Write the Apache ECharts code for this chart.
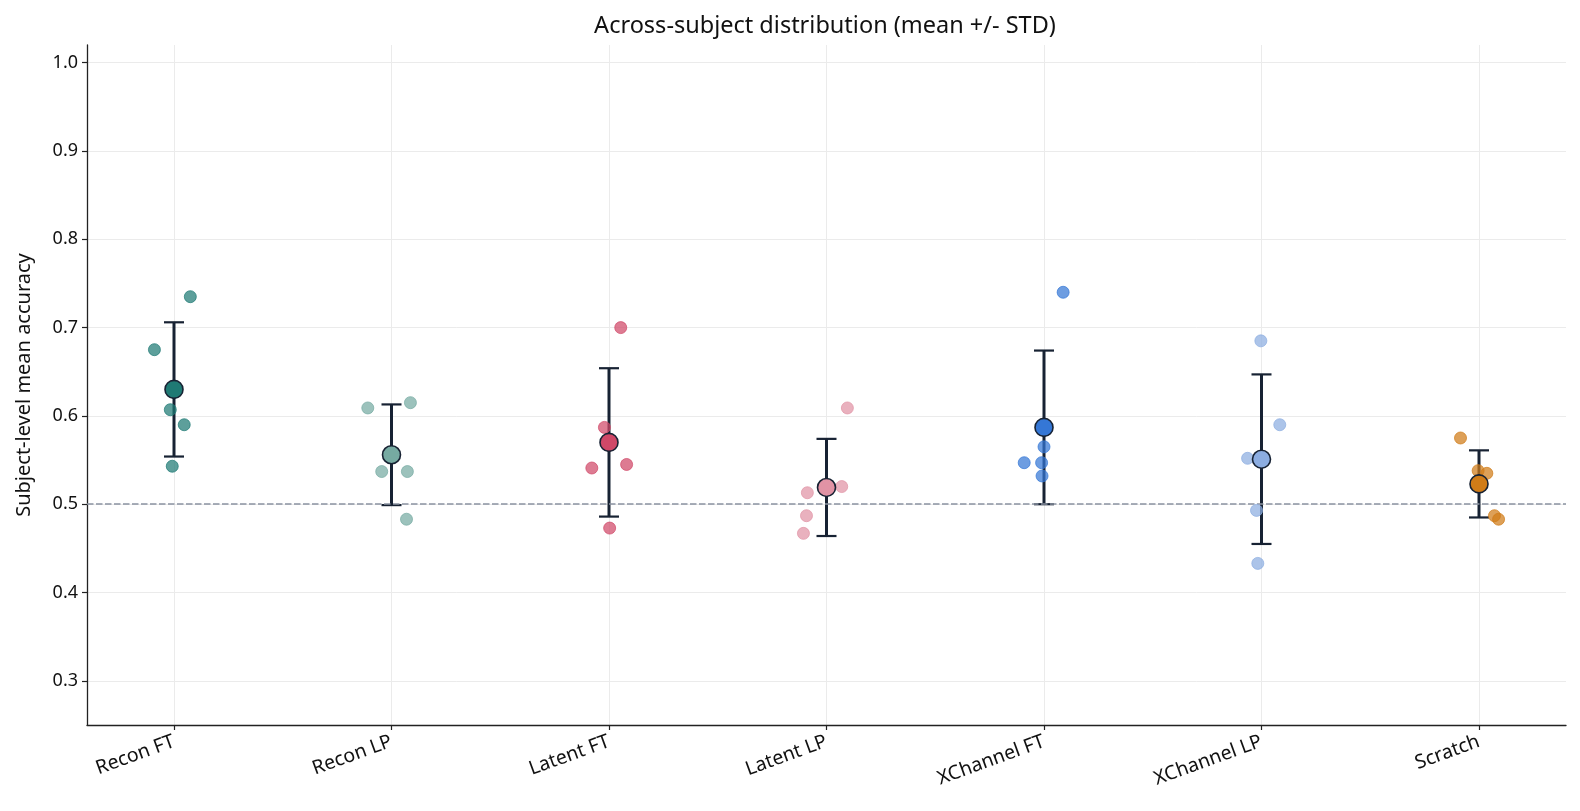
<!DOCTYPE html>
<html>
<head>
<meta charset="utf-8">
<style>
  html, body { margin: 0; padding: 0; background: #fff; }
  #chart { width: 1580px; height: 811px; }
</style>
<script src="https://cdn.jsdelivr.net/npm/echarts@6/dist/echarts.min.js"></script>
</head>
<body>
<div id="chart"></div>
<script>
// --- data ---
const categories = ['Recon FT', 'Recon LP', 'Latent FT', 'Latent LP', 'XChannel FT', 'XChannel LP', 'Scratch'];
const means = [0.630, 0.556, 0.570, 0.519, 0.587, 0.551, 0.523];
const stds = [0.076, 0.057, 0.084, 0.055, 0.087, 0.096, 0.038];
const subjectScores = [
  [0.735, 0.675, 0.607, 0.590, 0.543],
  [0.609, 0.615, 0.537, 0.537, 0.483],
  [0.700, 0.587, 0.541, 0.545, 0.473],
  [0.609, 0.520, 0.513, 0.487, 0.467],
  [0.740, 0.565, 0.547, 0.547, 0.532],
  [0.685, 0.590, 0.552, 0.493, 0.433],
  [0.575, 0.538, 0.535, 0.487, 0.483]
];
// horizontal jitter of each subject point (in category units)
const jitter = [
  [0.075, -0.090, -0.017, 0.047, -0.008],
  [-0.109, 0.087, -0.045, 0.073, 0.069],
  [0.054, -0.021, -0.079, 0.081, 0.003],
  [0.096, 0.070, -0.088, -0.092, -0.106],
  [0.088, 0.000, -0.091, -0.011, -0.009],
  [-0.003, 0.084, -0.064, -0.023, -0.017],
  [-0.085, -0.004, 0.036, 0.071, 0.090]
];
const yTicks = [0.3, 0.4, 0.5, 0.6, 0.7, 0.8, 0.9, 1.0];
const chanceLevel = 0.5;

const colors = ['#1f7a74', '#76aaa2', '#d04868', '#e193a5', '#3577d6', '#8cade1', '#d07c18'];
const FONT = 'Noto Sans';

const chart = echarts.init(document.getElementById('chart'));

// subject points, one series per method
const pointSeries = categories.map((name, i) => ({
  name: name,
  type: 'scatter',
  z: 3,
  symbolSize: 12,
  itemStyle: { color: colors[i], opacity: 0.72, borderColor: colors[i], borderWidth: 1 },
  data: subjectScores[i].map((v, j) => [i + jitter[i][j], v])
}));

const option = {
  backgroundColor: '#fff',
  animation: false,
  title: {
    text: 'Across-subject distribution (mean +/- STD)',
    left: 820,
    textAlign: 'center',
    top: 9,
    textStyle: { fontFamily: FONT, fontSize: 23.5, fontWeight: 'normal', color: '#111' }
  },
  grid: { left: 87, right: 14, top: 45, bottom: 86 },
  xAxis: {
    type: 'value',
    min: -0.4,
    max: 6.4,
    axisLine: { show: true, onZero: false, lineStyle: { color: '#222', width: 1.3 } },
    axisTick: { show: true, length: 5, lineStyle: { color: '#222', width: 1.2 }, customValues: categories.map((c, i) => i) },
    axisLabel: {
      customValues: categories.map((c, i) => i),
      formatter: v => categories[Math.round(v)],
      rotate: 20,
      margin: 16,
      fontFamily: FONT,
      fontSize: 19.5,
      color: '#111'
    },
    splitLine: { show: true, lineStyle: { color: '#ebebeb', width: 1 } }
  },
  yAxis: {
    type: 'value',
    min: 0.25,
    max: 1.02,
    name: 'Subject-level mean accuracy',
    nameLocation: 'middle',
    nameGap: 53,
    nameTextStyle: { fontFamily: FONT, fontSize: 20, color: '#111' },
    axisLine: { show: true, onZero: false, lineStyle: { color: '#222', width: 1.3 } },
    axisTick: { show: true, length: 5, lineStyle: { color: '#222', width: 1.2 }, customValues: yTicks },
    axisLabel: {
      customValues: yTicks,
      formatter: v => v.toFixed(1),
      margin: 9,
      fontFamily: FONT,
      fontSize: 18,
      color: '#111'
    },
    splitLine: { show: true, lineStyle: { color: '#ebebeb', width: 1 } }
  },
  series: [
    {
      name: 'std',
      type: 'custom',
      z: 2,
      data: means.map((m, i) => [i, m - stds[i], m + stds[i]]),
      renderItem: function (params, api) {
        const x = api.value(0);
        const top = api.coord([x, api.value(2)]);
        const bot = api.coord([x, api.value(1)]);
        const cap = 10;
        const st = { stroke: '#172233', lineWidth: 3 };
        const capSt = { stroke: '#172233', lineWidth: 2.2 };
        return {
          type: 'group',
          children: [
            { type: 'line', shape: { x1: top[0], y1: top[1], x2: bot[0], y2: bot[1] }, style: st },
            { type: 'line', shape: { x1: top[0] - cap, y1: top[1], x2: top[0] + cap, y2: top[1] }, style: capSt },
            { type: 'line', shape: { x1: bot[0] - cap, y1: bot[1], x2: bot[0] + cap, y2: bot[1] }, style: capSt }
          ]
        };
      },
      markLine: {
        silent: true,
        symbol: 'none',
        z: 3,
        label: { show: false },
        lineStyle: { color: '#8a93a1', width: 1.5, type: [6.5, 2.5] },
        data: [{ yAxis: chanceLevel }]
      }
    },
    ...pointSeries,
    {
      name: 'mean',
      type: 'scatter',
      z: 4,
      symbolSize: 18,
      data: means.map((m, i) => ({
        value: [i, m],
        itemStyle: { color: colors[i], borderColor: '#172233', borderWidth: 1.6, opacity: 1 }
      }))
    }
  ]
};

chart.setOption(option);
window.addEventListener('resize', () => chart.resize());
</script>
</body>
</html>
